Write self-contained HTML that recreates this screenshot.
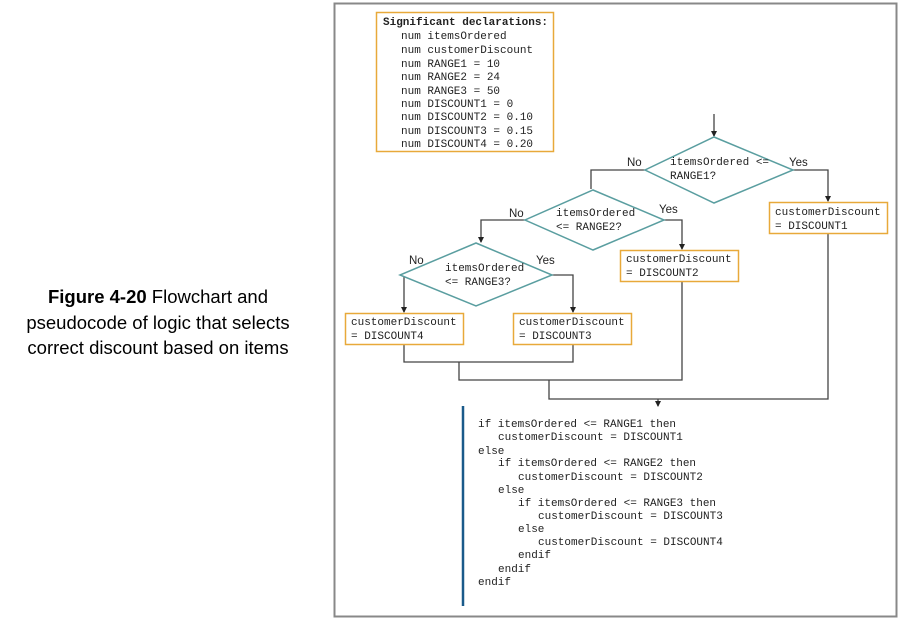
<!DOCTYPE html>
<html><head><meta charset="utf-8"><style>
body{margin:0;width:905px;height:622px;background:#fff;position:relative;overflow:hidden;font-family:"Liberation Sans",sans-serif}
.cap{position:absolute;left:0;width:316px;top:284px;text-align:center;font-size:18.5px;line-height:25.5px;color:#000}
svg{position:absolute;left:0;top:0}
</style></head><body>
<div class="cap"><b>Figure 4-20</b> Flowchart and<br>pseudocode of logic that selects<br>correct discount based on items</div>
<svg width="905" height="622" font-family="Liberation Mono, monospace" font-size="11" fill="#222">
<defs><marker id="a" markerWidth="6" markerHeight="6" refX="5" refY="3" orient="auto" markerUnits="userSpaceOnUse"><path d="M0,0 L6,3 L0,6z" fill="#222"/></marker></defs>
<rect x="334.5" y="3.5" width="562" height="613" fill="none" stroke="#888" stroke-width="2"/>
<rect x="376.5" y="12.5" width="177" height="139" fill="none" stroke="#e8a93a" stroke-width="1.5"/>
<text x="383" y="25" font-weight="bold">Significant declarations:</text>
<g><text x="401" y="39">num itemsOrdered</text><text x="401" y="53">num customerDiscount</text><text x="401" y="67">num RANGE1 = 10</text><text x="401" y="80">num RANGE2 = 24</text><text x="401" y="94">num RANGE3 = 50</text><text x="401" y="107">num DISCOUNT1 = 0</text><text x="401" y="120">num DISCOUNT2 = 0.10</text><text x="401" y="134">num DISCOUNT3 = 0.15</text><text x="401" y="147">num DISCOUNT4 = 0.20</text></g>
<g fill="none" stroke="#444" stroke-width="1.3">
<path d="M714,114 V136" marker-end="url(#a)"/>
<path d="M645,170 H591 V189"/>
<path d="M793,170 H828 V201" marker-end="url(#a)"/>
<path d="M525,220 H481 V242" marker-end="url(#a)"/>
<path d="M664,220 H682 V249" marker-end="url(#a)"/>
<path d="M400,275 H404 V312" marker-end="url(#a)"/>
<path d="M552,275 H573 V312" marker-end="url(#a)"/>
<path d="M404,345 V362 H573 V345"/>
<path d="M459,362 V380 H682 V282"/>
<path d="M549,380 V399 H828 V234"/>
<path d="M658,399 V406" marker-end="url(#a)"/>
</g>
<g fill="#fff" stroke="#5a9ea0" stroke-width="1.5">
<polygon points="714,137 793,170 714,203 645,170"/>
<polygon points="593,190 664,220 593,250 525,220"/>
<polygon points="476,243 552,275 476,306 400,275"/>
</g>
<g fill="#fff" stroke="#e8a93a" stroke-width="1.5">
<rect x="769.5" y="202.5" width="118" height="31"/>
<rect x="620.5" y="250.5" width="118" height="31"/>
<rect x="345.5" y="313.5" width="118" height="31"/>
<rect x="513.5" y="313.5" width="118" height="31"/>
</g>
<text x="670" y="165">itemsOrdered &lt;=</text><text x="670" y="179">RANGE1?</text>
<text x="556" y="216">itemsOrdered</text><text x="556" y="230">&lt;= RANGE2?</text>
<text x="445" y="271">itemsOrdered</text><text x="445" y="285">&lt;= RANGE3?</text>
<g font-family="Liberation Sans, sans-serif" font-size="11.5"><text x="627" y="166">No</text><text x="789" y="166">Yes</text><text x="509" y="217">No</text><text x="659" y="213">Yes</text><text x="409" y="264">No</text><text x="536" y="264">Yes</text></g>
<text x="775" y="215">customerDiscount</text><text x="775" y="229">= DISCOUNT1</text>
<text x="626" y="262">customerDiscount</text><text x="626" y="276">= DISCOUNT2</text>
<text x="351" y="325">customerDiscount</text><text x="351" y="339">= DISCOUNT4</text>
<text x="519" y="325">customerDiscount</text><text x="519" y="339">= DISCOUNT3</text>
<line x1="463" y1="406" x2="463" y2="606" stroke="#1a5a8a" stroke-width="2.5"/>
<g><text x="478" y="427">if itemsOrdered &lt;= RANGE1 then</text>
<text x="498" y="440">customerDiscount = DISCOUNT1</text>
<text x="478" y="454">else</text>
<text x="498" y="466">if itemsOrdered &lt;= RANGE2 then</text>
<text x="518" y="480">customerDiscount = DISCOUNT2</text>
<text x="498" y="493">else</text>
<text x="518" y="506">if itemsOrdered &lt;= RANGE3 then</text>
<text x="538" y="519">customerDiscount = DISCOUNT3</text>
<text x="518" y="532">else</text>
<text x="538" y="545">customerDiscount = DISCOUNT4</text>
<text x="518" y="558">endif</text>
<text x="498" y="572">endif</text>
<text x="478" y="585">endif</text></g>
</svg>
</body></html>
